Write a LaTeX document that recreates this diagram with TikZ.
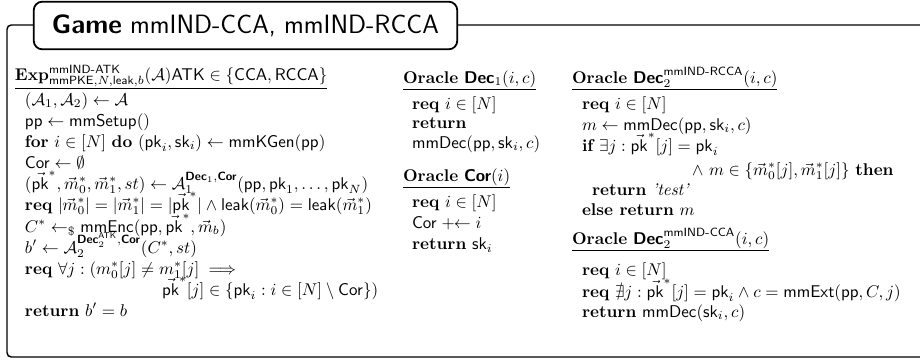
\documentclass[tikz,border=0pt]{standalone}
\usepackage{amsmath,amssymb}
\newcommand{\kw}[1]{\textbf{#1}}
\newcommand{\orc}[1]{\text{\normalfont\sffamily\bfseries #1}}
\newcommand{\pkv}{\vec{\mathsf{pk}}^{*}}
\begin{document}
\begin{tikzpicture}[x=0.588pt,y=-0.588pt,
  every node/.style={inner sep=0pt, outer sep=0pt, anchor=base west},
  hdrline/.style={line width=0.5pt},
  framebox/.style={line width=0.85pt, rounded corners=2.5pt},
  titlebox/.style={draw, line width=1.05pt, rounded corners=5pt, fill=white,
    minimum width=249pt, minimum height=28pt, anchor=center,
    font=\sffamily\fontsize{15.6}{19}\selectfont}]
\useasboundingbox (0,0) rectangle (920,360);

% outer frame and title tab
\draw[framebox] (7,25) rectangle (935,357);
\node[titlebox] (title) at (245.5,25.5) {\textbf{Game} mmIND-CCA, mmIND-RCCA};

% experiment
\node (expH) at (15,80.5) {$\mathbf{Exp}^{\mathsf{mmIND\text{-}ATK}}_{\mathsf{mmPKE},N,\mathsf{leak},b}(\mathcal{A})\mathsf{ATK}\in\{\mathsf{CCA},\mathsf{RCCA}\}$};
\draw[hdrline] ([yshift=-0.6pt]expH.south west) -- ([yshift=-0.6pt]expH.south east);
\node (e1) at (25,105) {$(\mathcal{A}_1,\mathcal{A}_2)\gets\mathcal{A}$};
\node (e2) at (25,126) {$\mathsf{pp}\gets\mathsf{mmSetup}()$};
\node (e3) at (25,147) {$\kw{for}\ i\in[N]\ \kw{do}\ (\mathsf{pk}_i,\mathsf{sk}_i)\gets\mathsf{mmKGen}(\mathsf{pp})$};
\node (e4) at (25,168) {$\mathsf{Cor}\gets\emptyset$};
\node (e5) at (25,189) {$(\pkv,\vec{m}_0^*,\vec{m}_1^*,st)\gets\mathcal{A}_1^{\orc{Dec}_1,\orc{Cor}}(\mathsf{pp},\mathsf{pk}_1,\ldots,\mathsf{pk}_N)$};
\node (e6) at (25,210) {$\kw{req}\ |\vec{m}_0^*|=|\vec{m}_1^*|=|\pkv|\wedge\mathsf{leak}(\vec{m}_0^*)=\mathsf{leak}(\vec{m}_1^*)$};
\node (e7) at (25,232) {$C^*\gets_{\$}\mathsf{mmEnc}(\mathsf{pp},\pkv,\vec{m}_b)$};
\node (e8) at (25,253) {$b'\gets\mathcal{A}_2^{\orc{Dec}_2^{\mathsf{ATK}},\orc{Cor}}(C^*,st)$};
\node (e9) at (25,274) {$\kw{req}\ \forall j:(m_0^*[j]\neq m_1^*[j]\implies$};
\node (e10) at (162,295) {$\pkv[j]\in\{\mathsf{pk}_i:i\in[N]\setminus\mathsf{Cor}\})$};
\node (e11) at (25,316) {$\kw{return}\ b'=b$};

% oracle Dec_1
\node (d1H) at (403,83) {$\kw{Oracle}\ \orc{Dec}_1(i,c)$};
\draw[hdrline] ([yshift=-1.5pt]d1H.south west) -- ([yshift=-1.5pt]d1H.south east);
\node (d1a) at (412,109) {$\kw{req}\ i\in[N]$};
\node (d1b) at (412,128) {$\kw{return}$};
\node (d1c) at (412,148) {$\mathsf{mmDec}(\mathsf{pp},\mathsf{sk}_i,c)$};

% oracle Cor
\node (corH) at (403,181) {$\kw{Oracle}\ \orc{Cor}(i)$};
\draw[hdrline] ([yshift=-1.5pt]corH.south west) -- ([yshift=-1.5pt]corH.south east);
\node (cora) at (412,207.5) {$\kw{req}\ i\in[N]$};
\node (corb) at (412,228.5) {$\mathsf{Cor}\mathrel{{+}\!\!\gets} i$};
\node (corc) at (412,249.5) {$\kw{return}\ \mathsf{sk}_i$};

% oracle Dec_2, RCCA variant
\node (rH) at (572,83) {$\kw{Oracle}\ \orc{Dec}_2^{\mathsf{mmIND\text{-}RCCA}}(i,c)$};
\draw[hdrline] ([yshift=-1.5pt]rH.south west) -- ([yshift=-1.5pt]rH.south east);
\node (ra) at (582,109) {$\kw{req}\ i\in[N]$};
\node (rb) at (582,130) {$m\gets\mathsf{mmDec}(\mathsf{pp},\mathsf{sk}_i,c)$};
\node (rc) at (582,151) {$\kw{if}\ \exists j:\pkv[j]=\mathsf{pk}_i$};
\node (rd) at (692,175) {$\wedge\ m\in\{\vec{m}_0^*[j],\vec{m}_1^*[j]\}\ \kw{then}$};
\node (re) at (592,195) {$\kw{return}\ \textit{'test'}$};
\node (rf) at (582,215) {$\kw{else return}\ m$};

% oracle Dec_2, CCA variant
\node (cH) at (572,244) {$\kw{Oracle}\ \orc{Dec}_2^{\mathsf{mmIND\text{-}CCA}}(i,c)$};
\draw[hdrline] ([yshift=-1.5pt]cH.south west) -- ([yshift=-1.5pt]cH.south east);
\node (ca) at (582,275) {$\kw{req}\ i\in[N]$};
\node (cb) at (582,297) {$\kw{req}\ \nexists j:\pkv[j]=\mathsf{pk}_i\wedge c=\mathsf{mmExt}(\mathsf{pp},C,j)$};
\node (cc) at (582,317) {$\kw{return}\ \mathsf{mmDec}(\mathsf{sk}_i,c)$};
\end{tikzpicture}
\end{document}
